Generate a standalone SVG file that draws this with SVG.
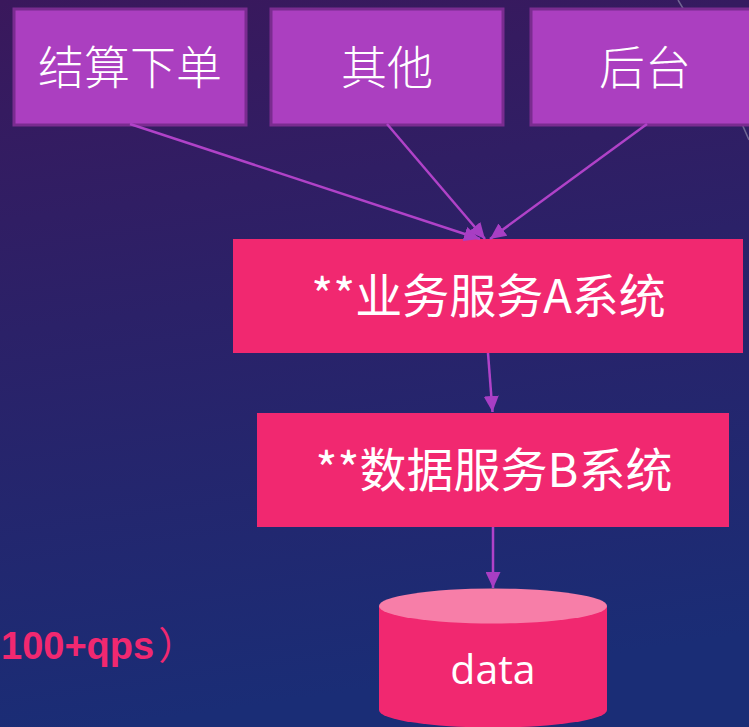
<svg xmlns="http://www.w3.org/2000/svg" width="749" height="727" viewBox="0 0 749 727">
  <defs>
    <linearGradient id="bg" x1="0" y1="0" x2="0.15" y2="1">
      <stop offset="0" stop-color="#3a185c"/>
      <stop offset="0.45" stop-color="#2b2168"/>
      <stop offset="1" stop-color="#1a2d76"/>
    </linearGradient>
    <marker id="arr" markerUnits="userSpaceOnUse" markerWidth="16" markerHeight="15" refX="16" refY="7.5" orient="auto">
      <path d="M0,0 L16,7.5 L0,15 z" fill="#a83ec4"/>
    </marker>
    <style>
      .top { fill: #ab3fc0; stroke: #7a2c90; stroke-width: 3; }
      .pink { fill: #f12870; }
      .cjkw { font-family: "Noto Sans CJK SC", sans-serif; fill: #ffffff; text-anchor: middle; font-weight: 300; }
      .sysw { font-family: "Noto Sans CJK SC", "Open Sans", sans-serif; fill: #ffffff; text-anchor: middle; }
      .conn { stroke: #b042c8; stroke-width: 2.5; fill: none; marker-end: url(#arr); }
    </style>
  </defs>
  <rect x="0" y="0" width="749" height="727" fill="url(#bg)"/>
  <path d="M678,0 Q714,58 749,140" fill="none" stroke="#8a86a8" stroke-width="1.5" opacity="0.7"/>

  <g id="node-jiesuan">
    <rect class="top" x="14" y="9" width="232" height="116"/>
    <text class="cjkw" x="130" y="84" font-size="46">结算下单</text>
  </g>
  <g id="node-qita">
    <rect class="top" x="271" y="9" width="232" height="116"/>
    <text class="cjkw" x="387" y="84" font-size="46">其他</text>
  </g>
  <g id="node-houtai">
    <rect class="top" x="531" y="9" width="232" height="116"/>
    <text class="cjkw" x="645" y="84" font-size="46">后台</text>
  </g>
  <g id="node-a">
    <rect class="pink" x="233" y="239" width="510" height="114"/>
    <text class="sysw" x="488.5" y="313" font-size="47">**业务服务A系统</text>
  </g>
  <g id="node-b">
    <rect class="pink" x="257" y="413" width="472" height="114"/>
    <text class="sysw" x="494" y="487" font-size="47">**数据服务B系统</text>
  </g>
  <g id="node-data">
    <path d="M379,606 L379,710 A114,17.5 0 0 0 607,710 L607,606 z" fill="#f12870"/>
    <ellipse cx="493" cy="606" rx="114" ry="17.5" fill="#f77ea8"/>
    <text x="493" y="684" font-family="Open Sans, Noto Sans, sans-serif" font-size="41" fill="#ffffff" text-anchor="middle">data</text>
  </g>
  <g id="note">
    <text x="1" y="659" font-family="Liberation Sans, Noto Sans CJK SC, sans-serif" font-weight="bold" font-size="38" fill="#f12870">100+qps<tspan font-family="Noto Sans CJK SC, sans-serif" font-weight="normal" dx="4">）</tspan></text>
  </g>

  <g id="connectors">
    <line class="conn" x1="130" y1="124" x2="480" y2="239"/>
    <line class="conn" x1="387" y1="124" x2="485" y2="239"/>
    <line class="conn" x1="647" y1="124" x2="490" y2="239"/>
    <line class="conn" x1="488" y1="353" x2="492.5" y2="412"/>
    <line class="conn" x1="493" y1="527" x2="493" y2="588"/>
  </g>
</svg>
